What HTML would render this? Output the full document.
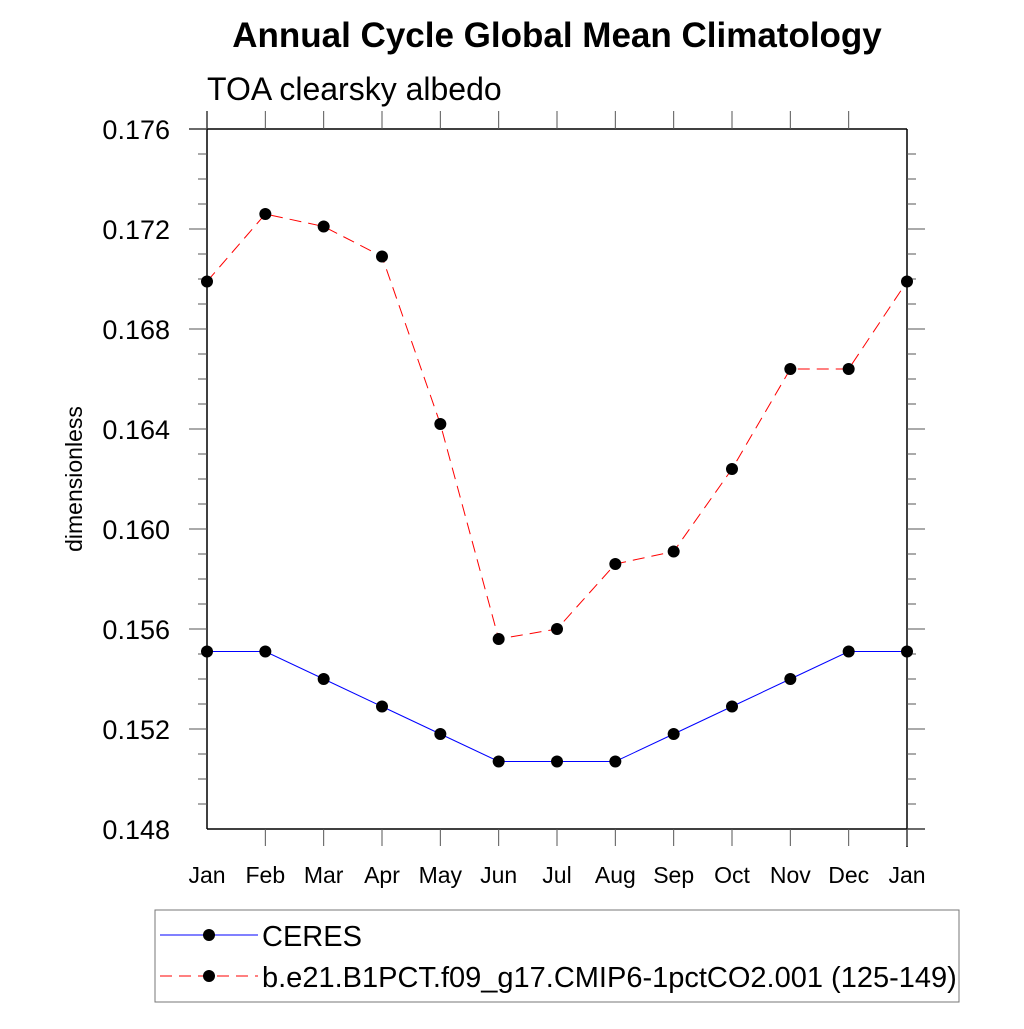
<!DOCTYPE html>
<html><head><meta charset="utf-8"><style>
body{margin:0;background:#fff}
svg text{font-family:"Liberation Sans",sans-serif}
</style></head><body>
<svg id="c" width="1024" height="1024" xmlns="http://www.w3.org/2000/svg">
<text x="557" y="47" font-size="35" font-weight="bold" text-anchor="middle">Annual Cycle Global Mean Climatology</text>
<text x="207" y="100" font-size="32">TOA clearsky albedo</text>
<text transform="translate(82,479) rotate(-90)" font-size="23" text-anchor="middle">dimensionless</text>
<g id="axes"></g>
<g id="series"></g>
<rect x="155" y="910" width="804" height="92" fill="none" stroke="#777" stroke-width="1"/>
<g>
<line x1="160" y1="935" x2="258" y2="935" stroke="blue" stroke-width="1"/>
<circle cx="209" cy="935" r="6"/>
<text x="262" y="946" font-size="29">CERES</text></g>
<g>
<line x1="160" y1="976" x2="258" y2="976" stroke="red" stroke-width="1" stroke-dasharray="12,7"/>
<circle cx="209" cy="976" r="6"/>
<text x="262" y="987" font-size="29">b.e21.B1PCT.f09_g17.CMIP6-1pctCO2.001 (125-149)</text></g>
</svg>
<script>
const months=["Jan","Feb","Mar","Apr","May","Jun","Jul","Aug","Sep","Oct","Nov","Dec","Jan"];
const ceres=[0.1551,0.1551,0.1540,0.1529,0.1518,0.1507,0.1507,0.1507,0.1518,0.1529,0.1540,0.1551,0.1551];
const model=[0.1699,0.1726,0.1721,0.1709,0.1642,0.1556,0.1560,0.1586,0.1591,0.1624,0.1664,0.1664,0.1699];
const yTicks=[0.148,0.152,0.156,0.160,0.164,0.168,0.172,0.176];
const NS="http://www.w3.org/2000/svg";
const x0=207,x1=907,yTop=129,yBot=829,yMin=0.148,yMax=0.176;
const X=i=>x0+(x1-x0)*i/(months.length-1);
const Y=v=>yBot-(v-yMin)/(yMax-yMin)*(yBot-yTop);
function mk(tag,at,parent){const e=document.createElementNS(NS,tag);for(const k in at)e.setAttribute(k,at[k]);parent.appendChild(e);return e;}
const ax=document.getElementById('axes');
let l;
l=mk('line',{x1:x0,y1:111,x2:x0,y2:yBot,stroke:'#000','stroke-width':1.5},ax);


l=mk('line',{x1:x1,y1:yTop,x2:x1,y2:847,stroke:'#000','stroke-width':1.5},ax);


l=mk('line',{x1:189,y1:yTop,x2:x1,y2:yTop,stroke:'#000','stroke-width':1.5},ax);


l=mk('line',{x1:x0,y1:yBot,x2:925,y2:yBot,stroke:'#000','stroke-width':1.5},ax);


months.forEach((m,i)=>{
  const x=X(i);
  if(i>0){mk('line',{x1:x,y1:yBot,x2:x,y2:846,stroke:'#555'},ax);}
  if(i<months.length-1){mk('line',{x1:x,y1:yTop,x2:x,y2:111,stroke:'#555'},ax);}
  const t=mk('text',{x:x,y:883,'font-size':23,'text-anchor':'middle'},ax);
  t.textContent=m;
  
  
});
for(let v=yMin;v<=yMax+1e-9;v+=0.001){
  const y=Y(v);const major=Math.round(v*1000)%4===0;
  const len=major?18:9;
  if(y<yBot-0.5) mk('line',{x1:x0,y1:y,x2:x0-len,y2:y,stroke:'#555'},ax);
  if(y>yTop+0.5) mk('line',{x1:x1,y1:y,x2:x1+len,y2:y,stroke:'#555'},ax);
}
yTicks.forEach(v=>{
  const t=mk('text',{x:170,y:Y(v)+10,'font-size':27,'text-anchor':'end'},ax);
  t.textContent=v.toFixed(3);
  
  
});
const sg=document.getElementById('series');
function series(vals,color,dash,name){
  const g=mk('g',{},sg);
  
  
  const p=mk('polyline',{points:vals.map((v,i)=>X(i)+','+Y(v)).join(' '),fill:'none',stroke:color,'stroke-width':1},g);
  if(dash)p.setAttribute('stroke-dasharray',dash);
  vals.forEach((v,i)=>{const c=mk('circle',{cx:X(i),cy:Y(v),r:6},g);
    
    });
}
series(ceres,'blue',null,'ceres-line');
series(model,'red','12,7','model-line');
</script>
</body></html>
